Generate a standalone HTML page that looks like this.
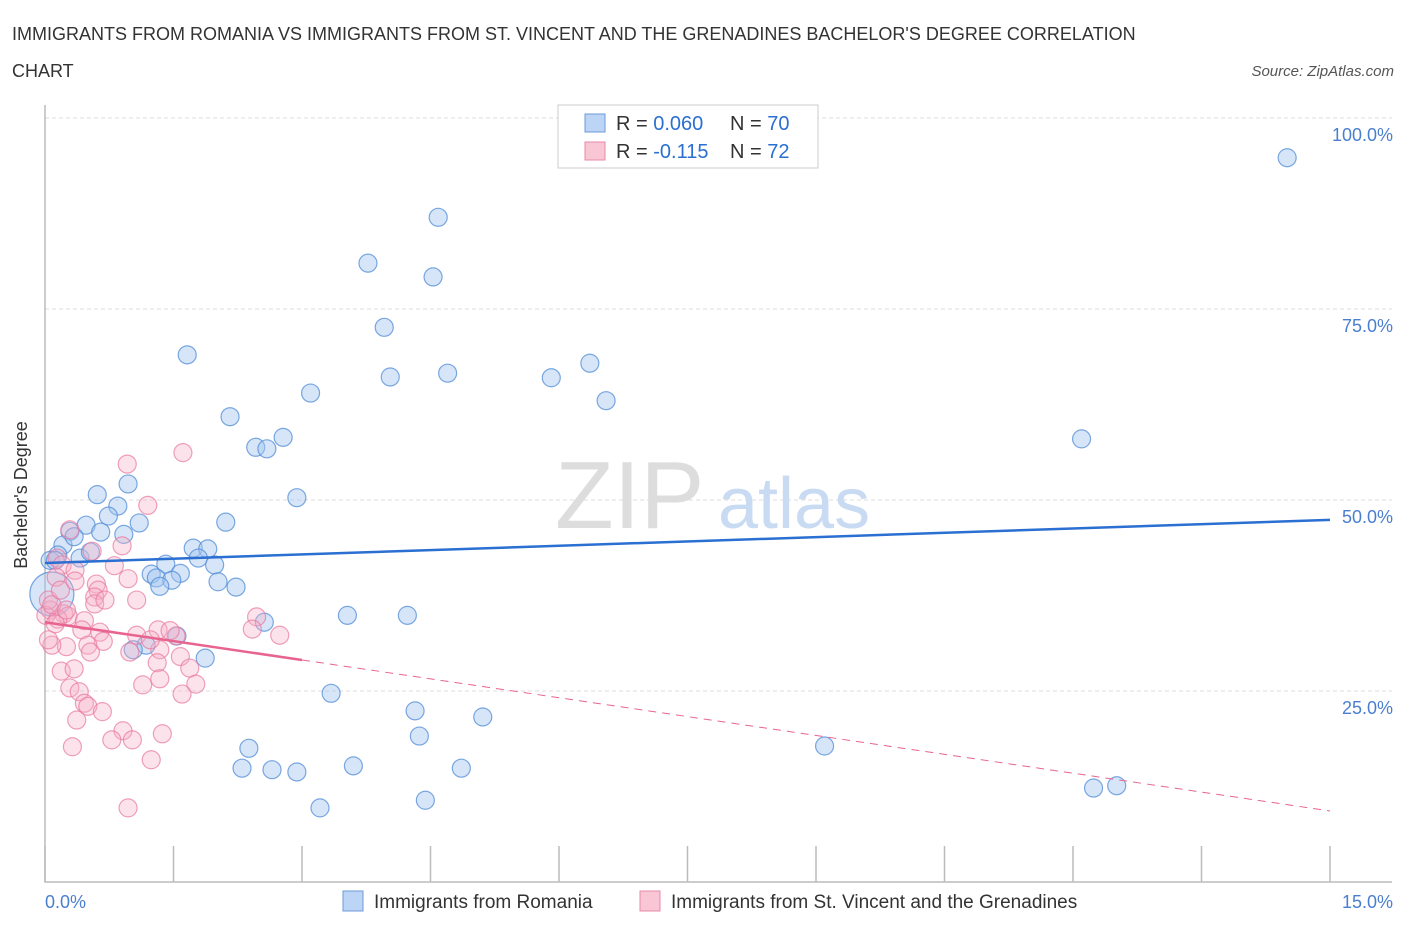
<!DOCTYPE html>
<html><head><meta charset="utf-8"><style>
body{margin:0;background:#fff;font-family:"Liberation Sans",sans-serif;}
svg text{font-family:"Liberation Sans",sans-serif;}
</style></head><body>
<svg width="1406" height="930" xmlns="http://www.w3.org/2000/svg">
<text x="12" y="40" font-size="18" fill="#333">IMMIGRANTS FROM ROMANIA VS IMMIGRANTS FROM ST. VINCENT AND THE GRENADINES BACHELOR'S DEGREE CORRELATION</text>
<text x="12" y="77" font-size="18" fill="#333">CHART</text>
<text x="1394" y="76" font-size="15" fill="#555" font-style="italic" text-anchor="end">Source: ZipAtlas.com</text>
<g id="grid"></g>
<text x="555" y="528" font-size="96" fill="#ddd" font-family="Liberation Serif">ZIP</text>
<text x="718" y="528" font-size="72" fill="#c9dbf2">atlas</text>
<g id="axes"></g>
<g id="pts"></g>
<g id="trends"></g>
<text x="27" y="495" font-size="18" fill="#333" text-anchor="middle" transform="rotate(-90 27 495)">Bachelor's Degree</text>
<text x="45" y="908" font-size="18" fill="#4a7fd0">0.0%</text>
<text x="1393" y="908" font-size="18" fill="#4a7fd0" text-anchor="end">15.0%</text>
<g>
<rect x="558" y="105" width="260" height="63" fill="#fff" stroke="#ccc"/>
<rect x="585" y="114" width="20" height="18" fill="#bcd4f5" stroke="#6c9ad8"/>
<rect x="585" y="142" width="20" height="18" fill="#f9c6d6" stroke="#e88aa8"/>
<text x="616" y="130" font-size="20" fill="#333">R = <tspan fill="#2a6fd1">0.060</tspan><tspan x="730">N = </tspan><tspan fill="#2a6fd1">70</tspan></text>
<text x="616" y="158" font-size="20" fill="#333">R = <tspan fill="#2a6fd1"> -0.115</tspan><tspan x="730">N = </tspan><tspan fill="#2a6fd1">72</tspan></text>
</g>
<g>
<rect x="343" y="891" width="20" height="20" fill="#bcd4f5" stroke="#6c9ad8"/>
<text x="374" y="908" font-size="19" fill="#333">Immigrants from Romania</text>
<rect x="640" y="891" width="20" height="20" fill="#f9c6d6" stroke="#e88aa8"/>
<text x="671" y="908" font-size="19" fill="#333">Immigrants from St. Vincent and the Grenadines</text>
</g>
</svg>
<script>
const yTicks=[25,50,75,100];
const yTickLabels=["25.0%","50.0%","75.0%","100.0%"];
const xTicks=[0,1.5,3,4.5,6,7.5,9,10.5,12,13.5,15];
const romX=[14.50,4.59,3.77,4.53,3.96,1.66,6.36,4.03,4.70,5.91,3.10,6.55,2.16,12.10,2.78,2.46,2.59,2.94,0.61,0.97,0.85,0.74,1.10,2.11,0.48,0.29,0.65,0.92,0.21,0.34,1.73,1.90,0.15,0.06,0.41,1.79,1.41,1.98,1.24,1.58,1.30,1.48,1.34,2.02,2.23,3.53,4.23,2.56,1.54,1.18,1.03,1.87,3.34,4.32,5.11,4.37,2.38,9.10,3.60,2.30,2.65,2.94,4.86,12.24,12.51,3.21,4.44,0.12,0.53,0.08];
const romY=[94.8,87.0,81.0,79.2,72.6,69.0,67.9,66.1,66.6,66.0,64.0,63.0,60.9,58.0,58.2,56.9,56.7,50.3,50.7,52.1,49.2,47.9,47.0,47.1,46.7,45.9,45.8,45.5,44.1,45.2,43.7,43.6,42.8,42.1,42.4,42.4,41.6,41.5,40.3,40.4,39.8,39.5,38.7,39.3,38.6,34.9,34.9,34.0,32.2,31.0,30.4,29.3,24.7,22.4,21.6,19.1,17.5,17.8,15.2,14.9,14.7,14.4,14.9,12.3,12.6,9.7,10.7,42.1,43.2,37.7];
const svX=[1.61,0.96,1.20,0.29,0.90,0.55,0.14,0.20,0.81,0.35,0.13,0.97,0.60,0.62,0.58,1.07,0.58,0.06,0.22,0.27,0.01,0.15,0.12,2.47,0.46,1.07,0.64,1.53,2.42,2.74,0.68,0.43,0.25,0.08,1.32,0.50,0.53,1.34,0.99,1.58,1.69,0.19,0.34,1.31,1.14,1.34,1.76,1.60,0.29,0.40,0.46,0.50,0.37,0.67,0.91,1.37,0.78,1.02,0.32,1.24,0.97,0.04,0.08,0.04,0.18,0.35,0.25,0.70,1.23,1.46];
const svY=[56.2,54.7,49.3,46.1,44.0,43.3,42.4,41.5,41.4,40.8,39.9,39.7,39.0,38.2,37.3,36.9,36.4,35.6,35.1,34.8,34.9,34.4,33.8,34.7,34.2,32.3,32.7,32.2,33.1,32.3,31.5,33.0,30.8,31.0,33.0,31.0,30.1,30.4,30.1,29.5,28.0,27.6,27.9,28.7,25.8,26.6,25.9,24.6,25.4,24.9,23.4,23.0,21.2,22.3,19.8,19.4,18.6,18.6,17.7,16.0,9.7,36.9,36.3,31.7,38.2,39.4,35.6,36.9,31.7,32.9];
const romTrend=[41.75,47.4];
const svTrend=[34.0,9.3];
const svSolidEnd=3;
const NS="http://www.w3.org/2000/svg";
const X=v=>45+v*(1285/15);
const Y=v=>882-v*7.64;
function mk(t,a,p){const e=document.createElementNS(NS,t);for(const k in a)e.setAttribute(k,a[k]);p.appendChild(e);return e;}
const grid=document.getElementById('grid'),axes=document.getElementById('axes'),pts=document.getElementById('pts'),tr=document.getElementById('trends');
yTicks.forEach((t,i)=>{
 const l=mk('line',{x1:45,x2:1392,y1:Y(t),y2:Y(t),stroke:'#ddd','stroke-dasharray':'4,3'},grid);
 
 
 const tx=mk('text',{x:1393,y:Y(t)+23,'font-size':18,fill:'#4a7fd0','text-anchor':'end'},axes);
 tx.textContent=yTickLabels[i];
 
 
});
const ax=mk('path',{d:`M45,105 V${Y(0)} H1392`,stroke:'#bbb',fill:'none','stroke-width':1.5},axes);


xTicks.forEach(t=>{
 const l=mk('line',{x1:X(t),x2:X(t),y1:Y(0),y2:Y(0)-36,stroke:'#bbb','stroke-width':1.5},axes);
 
 
});
romX.forEach((x,i)=>{
 const big=i===romX.length-1;
 const c=mk('circle',{cx:X(x),cy:Y(romY[i]),r:big?22:9,fill:'rgba(165,197,240,0.45)',stroke:'rgba(80,140,215,0.75)','stroke-width':1.2},pts);
 
 
});
svX.forEach((x,i)=>{
 const c=mk('circle',{cx:X(x),cy:Y(svY[i]),r:9,fill:'rgba(245,175,198,0.35)',stroke:'rgba(232,120,160,0.7)','stroke-width':1.2},pts);
 
 
});
const l1=mk('line',{x1:X(0),y1:Y(romTrend[0]),x2:X(15),y2:Y(romTrend[1]),stroke:'#2a6fd1','stroke-width':2.5},tr);


const sv=t=>svTrend[0]+(svTrend[1]-svTrend[0])*t/15;
const l2=mk('line',{x1:X(0),y1:Y(sv(0)),x2:X(svSolidEnd),y2:Y(sv(svSolidEnd)),stroke:'#e8648f','stroke-width':2.5},tr);


const l3=mk('line',{x1:X(svSolidEnd),y1:Y(sv(svSolidEnd)),x2:X(15),y2:Y(sv(15)),stroke:'#e8648f','stroke-width':1,'stroke-dasharray':'8,6'},tr);


</script>
</body></html>
